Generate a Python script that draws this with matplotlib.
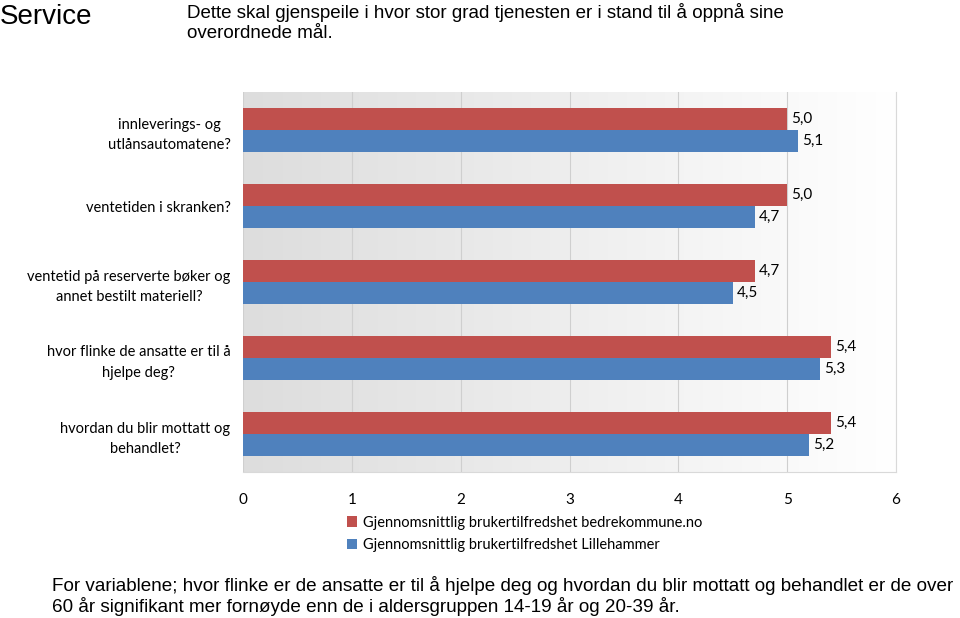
import numpy as np
import matplotlib.pyplot as plt
from matplotlib.colors import LinearSegmentedColormap

categories = [
    "innleverings- og\nutlånsautomatene?",
    "ventetiden i skranken?",
    "ventetid på reserverte bøker og\nannet bestilt materiell?",
    "hvor flinke de ansatte er til å\nhjelpe deg?",
    "hvordan du blir mottatt og\nbehandlet?",
]
bedrekommune = [5.0, 5.0, 4.7, 5.4, 5.4]
lillehammer = [5.1, 4.7, 4.5, 5.3, 5.2]
series_labels = [
    "Gjennomsnittlig brukertilfredshet bedrekommune.no",
    "Gjennomsnittlig brukertilfredshet Lillehammer",
]
xticks = [0, 1, 2, 3, 4, 5, 6]

red = "#c0504d"
blue = "#4f81bd"
label_font = ["Lato", "DejaVu Sans"]

fig = plt.figure(figsize=(9.6, 6.18), dpi=100)
ax = fig.add_axes([243 / 960, 1 - 472 / 618, 653 / 960, 380 / 618])

# gradient background of the plot area
grad = np.linspace(0, 1, 256).reshape(1, -1)
cmap = LinearSegmentedColormap.from_list("bg", ["#dddddd", "#ffffff"])
ax.imshow(grad, cmap=cmap, aspect="auto", extent=[0, 6, 4.5, -0.5], zorder=0)

y = np.arange(len(categories))
h = 0.29
b1 = ax.barh(y - h / 2, bedrekommune, height=h, color=red, zorder=3, label=series_labels[0])
b2 = ax.barh(y + h / 2, lillehammer, height=h, color=blue, zorder=3, label=series_labels[1])

for bars, vals in [(b1, bedrekommune), (b2, lillehammer)]:
    for rect, v in zip(bars, vals):
        ax.text(v + 0.04, rect.get_y() + rect.get_height() / 2,
                f"{v:.1f}".replace(".", ","), va="center", ha="left",
                fontsize=11, family=label_font, zorder=4)

ax.set_xlim(0, 6)
ax.set_ylim(4.5, -0.5)
ax.set_xticks(xticks)
ax.set_xticklabels([str(t) for t in xticks], family=label_font, fontsize=11)
ax.set_yticks(y)
ax.set_yticklabels(categories, family=label_font, fontsize=10.5)
for t in ax.get_yticklabels():
    t.set_multialignment("center")
    t.set_linespacing(1.55)
ax.tick_params(axis="both", length=0)
ax.tick_params(axis="x", pad=15)
ax.tick_params(axis="y", pad=9)

ax.grid(axis="x", color="#cfcfcf", linewidth=0.8, zorder=1)
for s in ["top", "left"]:
    ax.spines[s].set_visible(False)
for s in ["right", "bottom"]:
    ax.spines[s].set_color("#d9d9d9")

fig.legend(handles=[b1, b2], labels=series_labels, loc="center left",
           bbox_to_anchor=(334 / 960, 1 - 534 / 618), frameon=False,
           handlelength=0.7, handleheight=0.7, handletextpad=0.4,
           labelspacing=0.6, prop={"family": label_font, "size": 10.5})

fig.text(0.0, 1 - 17 / 618, "Service", fontsize=20, family="Liberation Sans",
         va="center", ha="left")
fig.text(187 / 960, 1 - 3 / 618,
         "Dette skal gjenspeile i hvor stor grad tjenesten er i stand til å oppnå sine\noverordnede mål.",
         fontsize=13.5, family="Liberation Sans", va="top", ha="left", linespacing=1.2)
fig.text(52 / 960, 1 - 576 / 618,
         "For variablene; hvor flinke er de ansatte er til å hjelpe deg og hvordan du blir mottatt og behandlet er de over\n"
         "60 år signifikant mer fornøyde enn de i aldersgruppen 14-19 år og 20-39 år.",
         fontsize=13.6, family="Liberation Sans",
         va="top", ha="left", linespacing=1.1)

fig.savefig("out.png", dpi=100)
